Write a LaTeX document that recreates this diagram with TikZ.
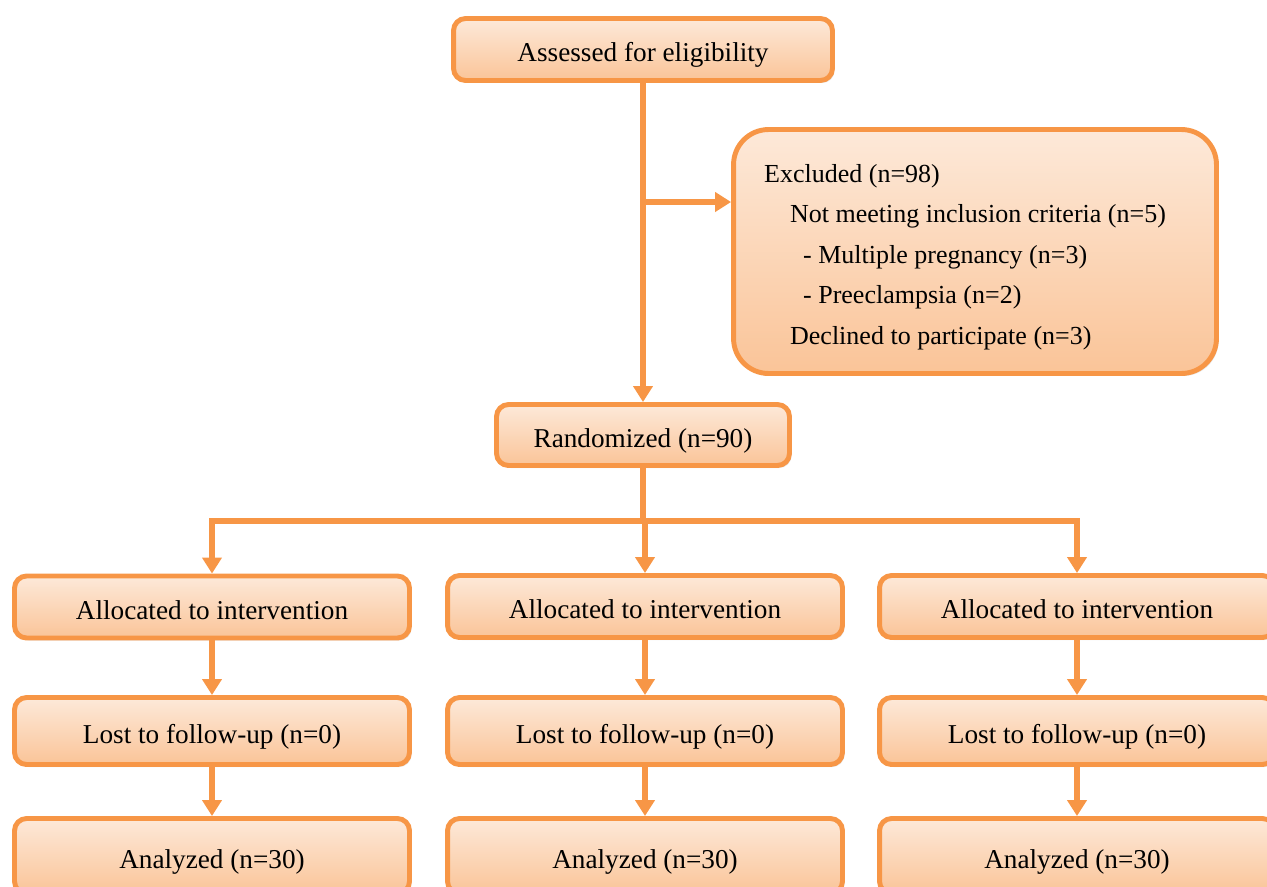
\documentclass[tikz,border=0pt]{standalone}
\usepackage{fontspec}
\setmainfont{Liberation Serif}
\usepackage{tikz}
\usetikzlibrary{arrows.meta,calc,positioning,shadows}
\definecolor{flowline}{RGB}{247,150,70}
\definecolor{peachtop}{RGB}{253,233,217}
\definecolor{peachbot}{RGB}{250,196,152}
\tikzset{
	box/.style={draw=flowline, line width=2.8pt, rounded corners=0.24cm,
		top color=peachtop, bottom color=peachbot, inner sep=0pt,
		text height=14pt, text depth=0pt,
		drop shadow={opacity=0.18, shadow xshift=0.04cm, shadow yshift=-0.05cm},
		font=\fontsize{15.5}{19}\selectfont},
	wide/.style={box, minimum width=7.9cm, minimum height=1.24cm},
	link/.style={draw=flowline, line width=3.3pt},
	arrow/.style={link, -{Triangle[width=0.38cm,length=0.32cm]}}
}
\begin{document}
\begin{tikzpicture}[x=0.02cm,y=-0.02cm]
		\useasboundingbox (0,0) rectangle (1267,886);
		\node[box, minimum width=7.58cm, minimum height=1.24cm] (assess) at (643,49.5) {Assessed for eligibility};
		\node[box, rounded corners=0.7cm, minimum width=9.66cm, minimum height=4.88cm] (excl) at (975,251.5) {};
		\node[align=left, font=\fontsize{14.8}{23}\selectfont, inner sep=0pt] (excltxt) at (965,257) {Excluded (n=98)\\
			\hspace*{0.52cm}Not meeting inclusion criteria (n=5)\\
			\hspace*{0.78cm}- Multiple pregnancy (n=3)\\
			\hspace*{0.78cm}- Preeclampsia (n=2)\\
			\hspace*{0.52cm}Declined to participate (n=3)};
		\node[box, minimum width=5.86cm, minimum height=1.22cm] (rand) at (643,435) {Randomized (n=90)};
		\node[wide] (alloc1) at (212,607) {Allocated to intervention};
		\node[wide] (alloc2) at (645,606.5) {Allocated to intervention};
		\node[wide] (alloc3) at (1077,606.5) {Allocated to intervention};
		\node[wide, minimum height=1.34cm] (lost1) at (212,731) {Lost to follow-up (n=0)};
		\node[wide, minimum height=1.34cm] (lost2) at (645,731) {Lost to follow-up (n=0)};
		\node[wide, minimum height=1.34cm] (lost3) at (1077,731) {Lost to follow-up (n=0)};
		\node[wide, minimum height=1.5cm] (anal1) at (212,856) {Analyzed (n=30)};
		\node[wide, minimum height=1.5cm] (anal2) at (645,856) {Analyzed (n=30)};
		\node[wide, minimum height=1.5cm] (anal3) at (1077,856) {Analyzed (n=30)};
		\coordinate (split) at (643,202);
		\coordinate (hub) at (643,521);
		\draw[arrow] (assess.south) -- (rand.north);
		\draw[arrow] (split) -- (split -| excl.west);
		\draw[link] (rand.south) -- (hub);
		\draw[link, line cap=rect] (alloc1.north |- hub) -- (alloc3.north |- hub);
		\foreach \i in {1,2,3} {
			\draw[arrow] (alloc\i.north |- hub) -- (alloc\i.north);
			\draw[arrow] (alloc\i) -- (lost\i);
			\draw[arrow] (lost\i) -- (anal\i);
		}
		\end{tikzpicture}
\end{document}
